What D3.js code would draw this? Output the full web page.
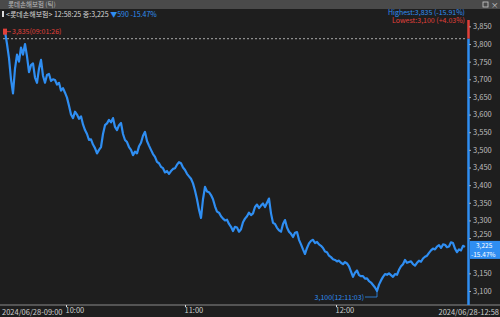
<!DOCTYPE html>
<html><head><meta charset="utf-8">
<script src="https://cdn.jsdelivr.net/npm/d3@7"></script>
<style>
html,body{margin:0;padding:0;background:#1e1e1e;}
svg{display:block;}
text{font-family:"Noto Sans CJK KR","Liberation Sans",sans-serif;}
</style></head><body>
<svg id="c" width="500" height="317"></svg>
<script>
// tick-by-tick prices (index = tick sequence)
const prices = [
3835,3800,3760,3700,3660,3730,3770,3750,3790,3770,3800,3765,3720,3740,3745,3705,3690,3730,3755,3710,
3690,3712,3715,3695,3700,3698,3685,3690,3668,3675,3662,3648,3625,3600,3590,3608,3600,3588,3595,3572,
3556,3545,3528,3530,3515,3505,3490,3500,3508,3545,3570,3575,3585,3578,3590,3565,3556,3570,3576,3545,
3528,3522,3508,3500,3485,3495,3490,3510,3520,3540,3551,3525,3512,3500,3488,3480,3466,3462,3452,3448,
3436,3440,3432,3440,3446,3448,3458,3465,3462,3450,3443,3432,3425,3418,3405,3385,3360,3330,3307,3360,
3395,3382,3380,3372,3360,3340,3325,3322,3312,3305,3300,3302,3290,3282,3270,3282,3280,3268,3275,3295,
3305,3312,3322,3315,3320,3338,3345,3335,3342,3348,3338,3350,3362,3320,3293,3290,3279,3272,3268,3290,
3301,3280,3268,3262,3253,3265,3267,3245,3232,3218,3205,3222,3235,3242,3245,3236,3239,3232,3228,3222,
3212,3210,3200,3196,3190,3188,3184,3186,3180,3176,3182,3178,3170,3155,3140,3152,3158,3145,3142,3142,
3135,3136,3128,3124,3117,3110,3100,3118,3130,3140,3148,3146,3150,3145,3140,3148,3146,3160,3170,3176,
3188,3180,3182,3184,3176,3172,3180,3186,3183,3192,3197,3200,3208,3215,3220,3218,3226,3230,3222,3232,
3231,3224,3226,3238,3236,3220,3210,3218,3215,3228,3225];
const yTicks = [3850,3800,3750,3700,3650,3600,3550,3500,3450,3400,3350,3300,3250,3150,3100];
const timeTickPos = [30.5, 90, 165.5];
const timeTickLabels = ["10:00","11:00","12:00"];
const startLabel = "2024/06/28-09:00";
const endLabel = "2024/06/28-12:58";
const prevClose = 3815;
const lastPrice = 3225;
const highInfo = {price:3835, idx:0, time:"09:01:26", pct:"-15.91%"};
const lowInfo = {price:3100, idx:186, time:"12:11:03", pct:"+4.03%"};

const svg = d3.select("#c");
const W=500,H=317;
const blue="#2f8ef2", red="#e0403a";
const x = d3.scaleLinear().domain([0, prices.length-1]).range([5,465]);
const y = d3.scaleLinear().domain([3100,3800]).range([291,44]);
const fmt = d3.format(",");

// background
svg.append("rect").attr("width",W).attr("height",H).attr("fill","#1e1e1e");
// title bar
svg.append("rect").attr("width",W).attr("height",9).attr("fill","#4a4a4a");
svg.append("text").attr("x",8).attr("y",7).attr("font-size",6.5).attr("fill","#bbbbbb").text("롯데손해보험 (틱)");
svg.append("rect").attr("x",483).attr("y",2).attr("width",5).attr("height",5).attr("fill","none").attr("stroke","#ccc").attr("stroke-width",0.8);
svg.append("text").attr("x",491).attr("y",7.5).attr("font-size",7.5).attr("fill","#ccc").text("×");

// info row
svg.append("rect").attr("x",2).attr("y",11).attr("width",2).attr("height",6).attr("fill","#ddd");
const info = svg.append("text").attr("x",6).attr("y",17).attr("font-size",7).attr("fill","#d8d8d8");
info.append("tspan").text("<롯데손해보험> 12:58:25 종:" + fmt(lastPrice) + " ");
info.append("tspan").attr("fill",blue).text("▼" + fmt(prevClose-lastPrice) + "  -15.47%");

// highest / lowest legend
svg.append("text").attr("x",465).attr("y",14.5).attr("text-anchor","end").attr("font-size",7).attr("fill",blue).attr("font-family","Liberation Sans, sans-serif")
  .text("Highest:" + fmt(highInfo.price) + " (" + highInfo.pct + ")");
svg.append("text").attr("x",465).attr("y",23).attr("text-anchor","end").attr("font-size",7).attr("fill",red).attr("font-family","Liberation Sans, sans-serif")
  .text("Lowest:" + fmt(lowInfo.price) + " (" + lowInfo.pct + ")");

// previous close dashed line
svg.append("line").attr("x1",3).attr("x2",467).attr("y1",y(prevClose)).attr("y2",y(prevClose))
  .attr("stroke","#cfcfcf").attr("stroke-width",0.8).attr("stroke-dasharray","2,2");

// x-axis base line
svg.append("line").attr("x1",0).attr("x2",W).attr("y1",305).attr("y2",305).attr("stroke","#8a8a8a").attr("stroke-width",1);

// right axis line (red above prev close, blue below)
svg.append("line").attr("x1",468.5).attr("x2",468.5).attr("y1",20).attr("y2",y(prevClose)).attr("stroke",red).attr("stroke-width",2.5);
svg.append("line").attr("x1",468.5).attr("x2",468.5).attr("y1",y(prevClose)).attr("y2",305).attr("stroke",blue).attr("stroke-width",2.5);

// y axis
const ya = svg.append("g").attr("transform","translate(469,0)")
  .call(d3.axisRight(y).tickValues(yTicks).tickFormat(fmt).tickSize(2).tickPadding(2));
ya.select(".domain").remove();
ya.selectAll("text").attr("font-size",7.5).attr("fill","#bdbdbd").attr("font-family","Liberation Sans, sans-serif");
ya.selectAll(".tick").filter(d=>d===3250).select("text").attr("dy","-0.2em");
ya.selectAll("line").attr("stroke","#aaa");

// x axis
const xa = svg.append("g").attr("transform","translate(0,305)")
  .call(d3.axisBottom(x).tickValues(timeTickPos).tickFormat((d,i)=>timeTickLabels[i]).tickSize(2).tickPadding(1));
xa.select(".domain").remove();
xa.selectAll("text").attr("font-size",7.5).attr("fill","#cfcfcf").attr("text-anchor","start").attr("dx",-1).attr("font-family","Liberation Sans, sans-serif");
xa.selectAll("line").attr("stroke","#ddd");
svg.append("text").attr("x",2).attr("y",315).attr("font-size",7.5).attr("fill","#cfcfcf").attr("font-family","Liberation Sans, sans-serif").text(startLabel);
svg.append("text").attr("x",499).attr("y",315).attr("text-anchor","end").attr("font-size",7.5).attr("fill","#cfcfcf").attr("font-family","Liberation Sans, sans-serif").text(endLabel);

// price line
const line = d3.line().x((d,i)=>x(i)).y(d=>y(d));
svg.append("path").datum(prices).attr("d",line).attr("fill","none").attr("stroke",blue).attr("stroke-width",2.2).attr("stroke-linejoin","round");

// high annotation
svg.append("rect").attr("x",3).attr("y",y(highInfo.price)-3).attr("width",4).attr("height",6).attr("fill",red);
svg.append("line").attr("x1",7).attr("x2",11).attr("y1",y(highInfo.price)).attr("y2",y(highInfo.price)).attr("stroke",red).attr("stroke-width",0.8);
svg.append("text").attr("x",12).attr("y",y(highInfo.price)+2.5).attr("font-size",7).attr("fill",red).attr("font-family","Liberation Sans, sans-serif")
  .text(fmt(highInfo.price) + "(" + highInfo.time + ")");

// low annotation
const lx = x(lowInfo.idx), ly = y(lowInfo.price);
svg.append("path").attr("d",`M${lx-12},${ly+6}H${lx}V${ly}`).attr("fill","none").attr("stroke",blue).attr("stroke-width",0.8);
svg.append("text").attr("x",lx-13).attr("y",ly+8.5).attr("text-anchor","end").attr("font-size",7).attr("fill",blue).attr("font-family","Liberation Sans, sans-serif")
  .text(fmt(lowInfo.price) + "(" + lowInfo.time + ")");

// current price box
const cy = y(lastPrice);
svg.append("rect").attr("x",470).attr("y",cy-6).attr("width",30).attr("height",18).attr("fill",blue);
svg.append("text").attr("x",476).attr("y",cy+1).attr("font-size",6.5).attr("fill","#fff").attr("font-family","Liberation Sans, sans-serif").text(fmt(lastPrice));
svg.append("text").attr("x",471).attr("y",cy+10).attr("font-size",6.5).attr("fill","#fff").attr("font-family","Liberation Sans, sans-serif").text("-15.47%");
</script>
</body></html>
